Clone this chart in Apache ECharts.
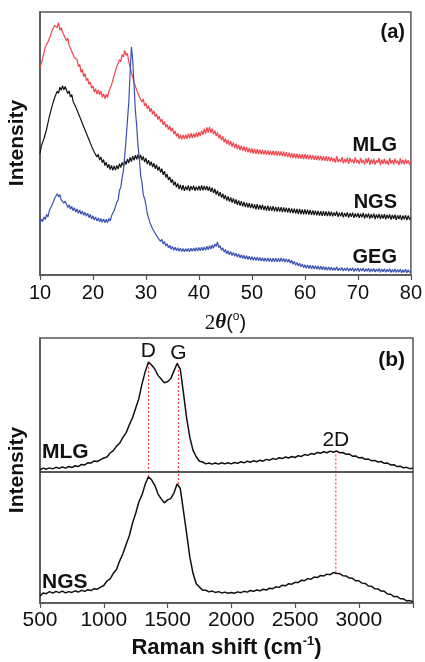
<!DOCTYPE html>
<html>
<head>
<meta charset="utf-8">
<script src="https://cdn.jsdelivr.net/npm/echarts@6/dist/echarts.min.js"></script>
<style>
  html, body { margin: 0; padding: 0; background: #fff; }
  #chart { width: 425px; height: 662px; }
</style>
</head>
<body>
<div id="chart"></div>
<script>
// ---------- XRD patterns, 2θ from 10° to 80° sampled every 0.25° ----------
const XRD_START = 10;
const XRD_STEP = 0.25;
const xrdAxisTicks = [10, 20, 30, 40, 50, 60, 70, 80];

// one row = 5° of the scan
const xrdMLG = [
  78.9, 79.2, 82.3, 82.7, 86.7, 86.4, 88.6, 88.5, 91.1, 92.8, 92.1, 94.9, 94.2, 94.1, 96.0, 93.1, 94.0, 92.3, 92.4, 90.2,
  89.1, 90.1, 87.4, 88.1, 85.0, 85.7, 82.6, 83.3, 81.9, 79.2, 80.1, 77.0, 78.2, 75.4, 76.6, 73.9, 74.8, 72.5, 73.4, 71.0,
  71.9, 69.6, 70.8, 68.8, 70.4, 68.5, 69.9, 67.6, 68.9, 67.1, 68.7, 67.5, 69.8, 69.4, 72.3, 72.5, 75.9, 76.0, 79.3, 79.1,
  81.9, 81.1, 83.8, 82.9, 85.4, 83.5, 84.3, 81.1, 80.9, 77.0, 76.8, 73.3, 73.4, 70.3, 70.9, 67.8, 68.3, 65.8, 66.9, 64.3,
  65.3, 63.2, 64.4, 62.1, 63.4, 61.1, 62.4, 60.2, 61.3, 59.1, 60.4, 58.2, 59.3, 57.1, 58.4, 56.2, 57.3, 55.2, 56.7, 54.6,
  55.9, 53.6, 54.8, 52.7, 53.9, 51.8, 53.4, 51.6, 53.3, 51.7, 53.4, 51.8, 53.7, 52.0, 53.9, 52.1, 53.8, 52.3, 54.1, 52.4,
  54.4, 52.8, 54.9, 53.3, 55.6, 53.7, 56.1, 54.1, 56.3, 54.0, 55.7, 53.5, 54.9, 52.8, 54.2, 52.0, 53.4, 51.2, 52.7, 50.5,
  51.9, 49.8, 51.4, 49.3, 50.9, 48.8, 50.4, 48.3, 49.9, 47.9, 49.5, 47.5, 49.2, 47.2, 48.9, 46.9, 48.6, 46.6, 48.3, 46.4,
  48.1, 46.2, 47.9, 46.1, 47.8, 46.0, 47.7, 45.9, 47.6, 45.8, 47.5, 45.7, 47.4, 45.6, 47.3, 45.5, 47.3, 45.5, 47.2, 45.4,
  47.1, 45.3, 47.0, 45.2, 46.9, 45.0, 46.7, 44.8, 46.5, 44.6, 46.3, 44.5, 46.2, 44.4, 46.1, 44.3, 46.0, 44.2, 45.9, 44.1,
  45.9, 44.1, 45.8, 44.0, 45.7, 43.9, 45.6, 43.8, 45.5, 43.7, 45.4, 43.6, 45.3, 43.5, 45.2, 43.4, 45.1, 43.3, 45.0, 43.2,
  44.9, 43.1, 44.4, 42.7, 45.2, 42.9, 44.1, 43.0, 44.8, 42.5, 44.0, 42.8, 44.6, 42.3, 44.5, 42.9, 43.9, 42.4, 44.7, 42.6,
  43.8, 42.2, 44.5, 42.6, 43.7, 42.0, 44.3, 42.5, 44.6, 41.9, 43.9, 42.4, 44.2, 42.0, 43.6, 42.6, 44.4, 41.8, 43.9, 42.3,
  44.1, 42.2, 43.6, 41.9, 44.4, 42.4, 43.7, 42.0, 44.2, 42.5, 43.5, 41.8, 44.3, 42.2, 43.8, 42.1, 44.0, 42.4, 43.6, 42.0,
  43.1
];

const xrdNGS = [
  46.2, 49.0, 48.8, 51.9, 51.6, 55.5, 56.2, 60.1, 60.7, 64.0, 64.1, 67.4, 67.2, 69.9, 69.1, 71.4, 70.2, 72.0, 70.4, 71.7,
  71.3, 69.0, 70.0, 67.7, 68.6, 66.0, 66.7, 63.9, 64.3, 61.4, 61.9, 58.9, 59.3, 56.4, 56.9, 53.9, 54.3, 51.4, 51.9, 48.9,
  49.3, 46.7, 47.3, 44.9, 45.9, 43.7, 44.9, 42.7, 43.9, 41.6, 42.9, 40.8, 42.1, 40.1, 41.7, 39.8, 41.5, 39.9, 41.7, 40.3,
  42.3, 40.9, 42.8, 41.5, 43.5, 42.0, 44.1, 42.6, 44.7, 43.1, 45.2, 43.6, 45.6, 44.0, 45.9, 44.0, 45.7, 43.6, 45.1, 42.9,
  44.4, 42.2, 43.7, 41.6, 43.1, 41.0, 42.5, 40.4, 41.9, 39.7, 41.2, 39.0, 40.4, 38.1, 39.5, 37.1, 38.4, 36.1, 37.3, 35.1,
  36.4, 34.1, 35.5, 33.3, 34.8, 32.7, 34.3, 32.3, 34.2, 32.0, 33.7, 32.3, 34.1, 31.9, 33.8, 32.4, 34.0, 32.0, 33.6, 32.2,
  33.9, 32.1, 34.1, 32.2, 33.9, 32.3, 33.8, 32.0, 33.6, 31.6, 33.2, 31.2, 32.7, 30.6, 32.1, 30.0, 31.5, 29.4, 30.9, 28.9,
  30.4, 28.3, 29.9, 27.9, 29.5, 27.5, 29.1, 27.1, 28.7, 26.7, 28.4, 26.4, 28.1, 26.1, 27.8, 25.8, 27.5, 25.6, 27.3, 25.4,
  27.1, 25.3, 26.8, 25.0, 26.9, 24.9, 26.6, 24.9, 26.7, 24.7, 26.3, 24.5, 26.4, 24.4, 26.1, 24.4, 26.2, 24.2, 25.9, 24.1,
  25.9, 24.1, 25.8, 23.9, 25.7, 23.9, 25.6, 23.7, 25.5, 23.6, 25.3, 23.5, 25.2, 23.4, 25.1, 23.3, 25.1, 23.2, 24.9, 23.1,
  24.9, 23.1, 24.8, 23.0, 24.7, 22.9, 24.6, 22.8, 24.5, 22.7, 24.4, 22.6, 24.3, 22.5, 24.3, 22.5, 24.2, 22.4, 24.2, 22.4,
  24.1, 22.3, 23.8, 22.5, 24.2, 22.1, 23.7, 22.3, 23.9, 21.9, 23.6, 22.2, 23.8, 21.8, 23.5, 22.1, 23.7, 21.7, 23.4, 22.0,
  23.5, 21.7, 23.3, 21.9, 23.6, 21.5, 23.2, 21.8, 23.4, 21.4, 23.1, 21.7, 23.3, 21.3, 23.0, 21.6, 23.2, 21.3, 23.0, 21.5,
  23.1, 21.2, 22.9, 21.5, 23.0, 21.1, 22.8, 21.4, 22.9, 21.0, 22.7, 21.3, 22.8, 20.9, 22.6, 21.2, 22.7, 20.9, 22.6, 21.1,
  21.8
];

const xrdGEG = [
  19.6, 21.3, 20.3, 22.1, 21.1, 23.0, 22.1, 24.4, 23.8, 26.5, 26.3, 29.1, 28.8, 30.9, 29.7, 30.6, 28.6, 29.3, 27.3, 28.1,
  27.5, 25.7, 26.7, 25.0, 26.1, 24.4, 25.6, 23.9, 25.1, 23.5, 24.7, 23.1, 24.3, 22.7, 23.9, 22.3, 23.5, 21.8, 23.0, 21.3,
  22.5, 20.9, 22.1, 20.5, 21.7, 20.2, 21.5, 20.0, 21.3, 19.9, 21.2, 19.9, 21.5, 20.5, 22.5, 22.0, 24.5, 24.6, 27.7, 28.5,
  32.2, 33.3, 37.1, 39.6, 45.6, 51.6, 58.7, 65.4, 76.3, 86.8, 81.7, 72.6, 62.5, 56.8, 48.9, 44.3, 37.8, 35.2, 30.4, 29.0,
  26.6, 23.3, 22.7, 19.9, 20.0, 17.6, 18.0, 15.8, 16.2, 14.1, 14.7, 12.8, 13.6, 11.8, 12.7, 11.0, 11.9, 10.3, 11.3, 9.8,
  10.9, 9.4, 10.6, 9.2, 10.4, 9.0, 10.2, 8.9, 10.1, 8.8, 10.0, 8.9, 10.1, 8.8, 10.2, 9.0, 10.3, 9.0, 10.4, 9.1,
  10.5, 9.2, 10.6, 9.3, 10.7, 9.4, 10.9, 9.6, 11.1, 9.9, 11.4, 10.2, 11.8, 10.8, 12.6, 10.4, 11.2, 9.4, 10.3, 8.7,
  9.7, 8.1, 9.2, 7.7, 8.9, 7.4, 8.6, 7.1, 8.3, 6.8, 8.0, 6.5, 7.7, 6.3, 7.5, 6.1, 7.3, 5.9, 7.1, 5.7,
  7.0, 5.6, 6.9, 5.5, 6.8, 5.4, 6.7, 5.3, 6.6, 5.2, 6.5, 5.1, 6.5, 5.1, 6.4, 5.0, 6.4, 5.0, 6.4, 5.0,
  6.4, 5.0, 6.5, 5.1, 6.3, 4.9, 6.2, 4.8, 6.0, 4.5, 5.6, 4.1, 5.2, 3.7, 4.8, 3.4, 4.5, 3.1, 4.2, 2.8,
  3.9, 2.6, 3.8, 2.5, 3.7, 2.4, 3.6, 2.3, 3.5, 2.2, 3.4, 2.1, 3.3, 2.0, 3.2, 1.9, 3.1, 1.8, 3.1, 1.8,
  3.0, 1.7, 2.8, 1.8, 3.1, 1.6, 2.7, 1.7, 2.9, 1.5, 2.6, 1.7, 2.8, 1.4, 2.6, 1.6, 2.8, 1.3, 2.5, 1.5,
  2.7, 1.3, 2.5, 1.5, 2.7, 1.2, 2.4, 1.4, 2.6, 1.1, 2.4, 1.3, 2.5, 1.1, 2.3, 1.3, 2.5, 1.0, 2.3, 1.2,
  2.4, 1.0, 2.2, 1.2, 2.4, 0.9, 2.1, 1.1, 2.3, 0.9, 2.1, 1.1, 2.2, 0.8, 2.0, 1.0, 2.2, 0.8, 2.0, 1.0,
  1.5
];

// ---------- Raman spectra, 500–3425 cm-1 sampled every 25 cm-1 ----------
const RAMAN_START = 500;
const RAMAN_STEP = 25;
const ramanAxisTicks = [500, 1000, 1500, 2000, 2500, 3000];
const RAMAN_STACK_OFFSET = 49.5;   // MLG trace is stacked above NGS

const ramanMLG = [
  0.7, 1.4, 1.0, 1.5, 1.1, 1.7, 1.3, 1.8, 1.4, 2.0,
  1.6, 2.3, 2.0, 2.8, 2.6, 3.4, 3.3, 4.1, 3.9, 4.6,
  5.2, 5.6, 7.1, 8.0, 9.7, 10.8, 13.0, 14.7, 17.7, 20.3,
  24.0, 27.6, 33.2, 37.8, 41.4, 40.3, 38.8, 36.4, 35.0, 33.6,
  34.0, 35.1, 38.0, 40.9, 38.8, 29.7, 20.3, 13.0, 8.1, 5.7,
  4.0, 3.7, 3.0, 3.3, 2.9, 3.3, 2.9, 3.4, 3.0, 3.4,
  3.0, 3.5, 3.2, 3.8, 3.4, 4.0, 3.6, 4.2, 3.8, 4.4,
  4.0, 4.7, 4.4, 5.0, 4.7, 5.3, 5.0, 5.6, 5.2, 5.8,
  5.4, 6.1, 5.8, 6.5, 6.2, 6.9, 6.6, 7.3, 7.0, 7.6,
  7.2, 7.8, 7.4, 7.9, 7.2, 7.3, 6.6, 6.7, 5.9, 6.0,
  5.3, 5.4, 4.7, 4.8, 4.2, 4.3, 3.7, 3.9, 3.2, 3.3,
  2.6, 2.7, 2.0, 2.1, 1.5, 1.7, 1.2, 1.4
];

const ramanNGS = [
  2.7, 3.8, 3.5, 4.3, 3.7, 4.4, 3.9, 4.5, 3.8, 4.3,
  4.0, 4.6, 4.1, 4.8, 4.4, 5.0, 4.7, 5.4, 5.2, 6.0,
  6.6, 8.3, 9.1, 11.2, 12.6, 15.9, 18.6, 22.1, 25.3, 30.1,
  33.8, 38.1, 40.8, 44.8, 47.6, 46.5, 44.4, 41.2, 39.3, 37.8,
  38.9, 39.4, 41.5, 44.9, 43.2, 34.8, 26.2, 17.3, 11.2, 7.3,
  6.0, 4.8, 4.8, 4.2, 4.5, 4.0, 4.3, 3.8, 4.1, 3.7,
  4.0, 3.7, 4.2, 3.9, 4.4, 4.1, 4.7, 4.4, 4.9, 4.6,
  5.2, 4.9, 5.6, 5.4, 6.1, 5.9, 6.7, 6.5, 7.3, 7.1,
  7.8, 7.7, 8.6, 8.4, 9.2, 9.0, 9.8, 9.6, 10.4, 10.2,
  10.9, 10.7, 11.5, 11.1, 11.1, 10.3, 10.2, 9.4, 9.3, 8.4,
  8.4, 7.5, 7.4, 6.4, 6.3, 5.4, 5.3, 4.5, 4.4, 3.4,
  3.3, 2.4, 2.5, 1.6, 1.6, 0.8, 0.9, 0.5
];

// Band positions marked on the spectra
const ramanBands = ['D', 'G', '2D'];
const ramanBandShift = [1350, 1585, 2820];

// ---------- helpers ----------
const FONT = '"Liberation Sans", Arial, Helvetica, sans-serif';
const SERIF = '"Liberation Serif", "Times New Roman", serif';

function pairs(start, step, values, offset) {
  return values.map((v, i) => [start + i * step, v + (offset || 0)]);
}

// Highest sample of a trace within ±half-window of a given shift
function peakNear(values, shift, halfWin) {
  let best = -Infinity;
  values.forEach((v, i) => {
    const x = RAMAN_START + i * RAMAN_STEP;
    if (Math.abs(x - shift) <= halfWin && v > best) best = v;
  });
  return best;
}

const bandLines = ramanBandShift.map((shift) => ({
  type: 'line',
  xAxisIndex: 1, yAxisIndex: 1,
  symbol: 'none',
  silent: true,
  z: 1,
  lineStyle: { color: '#ff2020', width: 1, type: [2, 2] },
  data: [
    [shift, peakNear(ramanNGS, shift, 25)],
    [shift, peakNear(ramanMLG, shift, 25) + RAMAN_STACK_OFFSET]
  ]
}));

const bandLabels = {
  type: 'scatter',
  xAxisIndex: 1, yAxisIndex: 1,
  symbolSize: 0,
  silent: true,
  itemStyle: { opacity: 1 },
  label: {
    show: true, position: 'top', distance: 0,
    formatter: (p) => p.data.name,
    fontFamily: FONT, fontSize: 21, color: '#111'
  },
  data: ramanBands.map((name, i) => ({
    name,
    value: [ramanBandShift[i], peakNear(ramanMLG, ramanBandShift[i], 25) + RAMAN_STACK_OFFSET]
  }))
};

const frameColor = '#555';

function xAxisBase(gridIndex, min, max, interval, ticks, fontSize, margin) {
  return {
    type: 'value', gridIndex, min, max, interval,
    axisLine: { show: true, lineStyle: { color: frameColor, width: 1.5 } },
    axisTick: { show: true, inside: false, length: 5, lineStyle: { color: frameColor, width: 1.2 } },
    splitLine: { show: false },
    axisLabel: {
      fontFamily: FONT, fontSize, color: '#111', margin,
      formatter: (v) => (ticks.indexOf(v) >= 0 ? String(v) : '')
    }
  };
}

function yAxisBase(gridIndex) {
  return {
    type: 'value', gridIndex, min: 0, max: 100,
    axisLine: { show: true, lineStyle: { color: frameColor, width: 1.5 } },
    axisTick: { show: false },
    axisLabel: { show: false },
    splitLine: { show: false }
  };
}

const xrdX = xAxisBase(0, 10, 80, 10, xrdAxisTicks, 20, 8);
xrdX.name = '{n|2}{t|θ}{p|(}{s|o}{p|)}';
xrdX.nameLocation = 'middle';
xrdX.nameGap = 36;
xrdX.nameTextStyle = {
  rich: {
    n: { fontFamily: SERIF, fontSize: 21, color: '#111' },
    t: { fontFamily: SERIF, fontSize: 21, fontStyle: 'italic', fontWeight: 'bold', color: '#111' },
    p: { fontFamily: FONT, fontSize: 20, color: '#111' },
    s: { fontFamily: FONT, fontSize: 12, color: '#111', padding: [0, 0, 12, 0] }
  }
};

const ramanX = xAxisBase(1, 500, 3425, 500, ramanAxisTicks, 21, 7);
ramanX.name = '{b|Raman shift (cm}{s|-1}{b|)}';
ramanX.nameLocation = 'middle';
ramanX.nameGap = 32;
ramanX.nameTextStyle = {
  rich: {
    b: { fontFamily: FONT, fontSize: 22, fontWeight: 'bold', color: '#111' },
    s: { fontFamily: FONT, fontSize: 13, fontWeight: 'bold', color: '#111', padding: [0, 0, 12, 0] }
  }
};

const textStyleBold = (size) => ({ fontFamily: FONT, fontSize: size, fontWeight: 'bold', fill: '#111' });

const option = {
  animation: false,
  backgroundColor: '#fff',
  grid: [
    { left: 40, top: 12, width: 373, height: 263, show: true, borderColor: frameColor, borderWidth: 1.5 },
    { left: 40, top: 338, width: 373, height: 265, show: true, borderColor: frameColor, borderWidth: 1.5 }
  ],
  xAxis: [xrdX, ramanX],
  yAxis: [yAxisBase(0), yAxisBase(1)],
  series: [
    {
      name: 'MLG', type: 'line', xAxisIndex: 0, yAxisIndex: 0, symbol: 'none',
      lineStyle: { color: '#f2444c', width: 1.2 },
      data: pairs(XRD_START, XRD_STEP, xrdMLG)
    },
    {
      name: 'NGS', type: 'line', xAxisIndex: 0, yAxisIndex: 0, symbol: 'none',
      lineStyle: { color: '#141414', width: 1.2 },
      data: pairs(XRD_START, XRD_STEP, xrdNGS)
    },
    {
      name: 'GEG', type: 'line', xAxisIndex: 0, yAxisIndex: 0, symbol: 'none',
      lineStyle: { color: '#3a51b2', width: 1.2 },
      data: pairs(XRD_START, XRD_STEP, xrdGEG)
    },
    {
      name: 'MLG Raman', type: 'line', xAxisIndex: 1, yAxisIndex: 1, symbol: 'none', z: 3,
      lineStyle: { color: '#111', width: 1.5 },
      data: pairs(RAMAN_START, RAMAN_STEP, ramanMLG, RAMAN_STACK_OFFSET),
      markLine: {
        silent: true, symbol: 'none', label: { show: false },
        lineStyle: { color: '#222', width: 1.5, type: 'solid' },
        data: [{ yAxis: RAMAN_STACK_OFFSET }]
      }
    },
    {
      name: 'NGS Raman', type: 'line', xAxisIndex: 1, yAxisIndex: 1, symbol: 'none', z: 3,
      lineStyle: { color: '#111', width: 1.5 },
      data: pairs(RAMAN_START, RAMAN_STEP, ramanNGS)
    },
    ...bandLines,
    bandLabels
  ],
  graphic: [
    { type: 'text', x: 405, y: 32, style: Object.assign({ text: '(a)', align: 'right', verticalAlign: 'middle' }, textStyleBold(20)) },
    { type: 'text', x: 397, y: 145, style: Object.assign({ text: 'MLG', align: 'right', verticalAlign: 'middle' }, textStyleBold(20)) },
    { type: 'text', x: 397, y: 202, style: Object.assign({ text: 'NGS', align: 'right', verticalAlign: 'middle' }, textStyleBold(20)) },
    { type: 'text', x: 397, y: 257, style: Object.assign({ text: 'GEG', align: 'right', verticalAlign: 'middle' }, textStyleBold(20)) },
    { type: 'text', x: 405, y: 360, style: Object.assign({ text: '(b)', align: 'right', verticalAlign: 'middle' }, textStyleBold(21)) },
    { type: 'text', x: 42, y: 452, style: Object.assign({ text: 'MLG', align: 'left', verticalAlign: 'middle' }, textStyleBold(21)) },
    { type: 'text', x: 42, y: 582, style: Object.assign({ text: 'NGS', align: 'left', verticalAlign: 'middle' }, textStyleBold(21)) },
    { type: 'text', x: 17, y: 143, rotation: Math.PI / 2, style: Object.assign({ text: 'Intensity', align: 'center', verticalAlign: 'middle' }, textStyleBold(21)) },
    { type: 'text', x: 17, y: 470, rotation: Math.PI / 2, style: Object.assign({ text: 'Intensity', align: 'center', verticalAlign: 'middle' }, textStyleBold(21)) }
  ]
};

const chart = echarts.init(document.getElementById('chart'), null, { renderer: 'canvas' });
chart.setOption(option);
</script>
</body>
</html>
